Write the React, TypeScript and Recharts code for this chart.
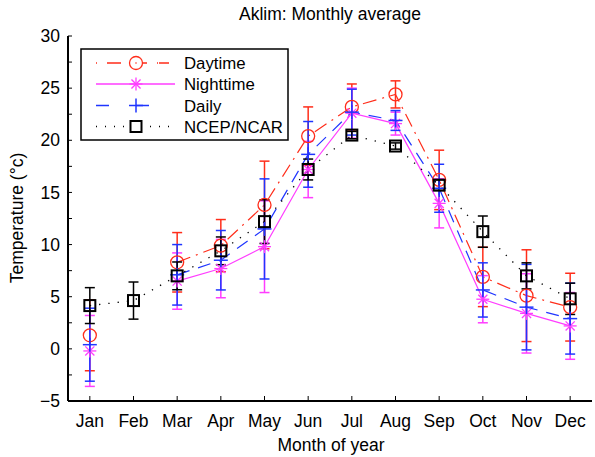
import { LineChart, Line, XAxis, YAxis, ErrorBar } from 'recharts';

const months = ['Jan', 'Feb', 'Mar', 'Apr', 'May', 'Jun', 'Jul', 'Aug', 'Sep', 'Oct', 'Nov', 'Dec'];

const daytime = [1.3, null, 8.3, 9.9, 13.8, 20.4, 23.2, 24.4, 16.2, 6.9, 5.1, 4.0];
const daytimeErr = [3.4, null, 2.85, 2.5, 4.2, 2.8, 2.2, 1.3, 2.85, 2.85, 4.4, 3.25];

const nighttime = [-0.2, null, 6.5, 7.7, 9.8, 17.2, 22.6, 21.6, 13.95, 4.76, 3.4, 2.2];
const nighttimeErr = [3.4, null, 2.7, 2.8, 4.4, 2.7, 2.4, 1.1, 2.35, 2.26, 3.8, 3.2];

const daily = [0.4, null, 7.1, 8.5, 11.5, 18.65, 22.7, 21.9, 15.4, 5.65, 4.0, 2.9];
const dailyErr = [3.5, null, 2.9, 2.85, 4.8, 3.15, 2.2, 0.95, 2.3, 2.6, 4.1, 3.4];

const ncep = [4.15, 4.63, 7.0, 9.4, 12.2, 17.2, 20.5, 19.45, 15.7, 11.24, 7.0, 4.8];
const ncepErr = [1.72, 1.78, 1.33, 1.33, 2.1, 1.0, 0.35, 0.3, 0.5, 1.5, 1.25, 1.5];

const yTicks = [-5, -2.5, 0, 2.5, 5, 7.5, 10, 12.5, 15, 17.5, 20, 22.5, 25, 27.5, 30];
const xTicks = [1, 2, 3, 4, 5, 6, 7, 8, 9, 10, 11, 12];

const RED = '#ff2d1a';
const MAGENTA = '#ff3dff';
const BLUE = '#1f35ff';
const FONT = '"Liberation Sans", Arial, sans-serif';

const data = months.map((name, i) => ({
  m: i + 1,
  name,
  day: daytime[i],
  dayErr: daytimeErr[i],
  night: nighttime[i],
  nightErr: nighttimeErr[i],
  daily: daily[i],
  dailyErr: dailyErr[i],
  ncep: ncep[i],
  ncepErr: ncepErr[i],
}));

const fmtY = (v: number) => (v % 5 !== 0 ? '' : v < 0 ? '\u2212' + Math.abs(v) : String(v));

const CircleDot = (p: any) => {
  if (p.cx == null || p.cy == null || p.value == null) return <g key={`c${p.index}`} />;
  return <circle key={`c${p.index}`} cx={p.cx} cy={p.cy} r={6.5} fill="none" stroke={RED} strokeWidth={1.3} />;
};

const StarDot = (p: any) => {
  if (p.cx == null || p.cy == null || p.value == null) return <g key={`s${p.index}`} />;
  const r = 6.5;
  const d = r * 0.7;
  return (
    <g key={`s${p.index}`} stroke={MAGENTA} strokeWidth={1.3}>
      <line x1={p.cx - r} y1={p.cy} x2={p.cx + r} y2={p.cy} />
      <line x1={p.cx} y1={p.cy - r} x2={p.cx} y2={p.cy + r} />
      <line x1={p.cx - d} y1={p.cy - d} x2={p.cx + d} y2={p.cy + d} />
      <line x1={p.cx - d} y1={p.cy + d} x2={p.cx + d} y2={p.cy - d} />
    </g>
  );
};

const PlusDot = (p: any) => {
  if (p.cx == null || p.cy == null || p.value == null) return <g key={`p${p.index}`} />;
  const r = 7;
  return (
    <g key={`p${p.index}`} stroke={BLUE} strokeWidth={1.5}>
      <line x1={p.cx - r} y1={p.cy} x2={p.cx + r} y2={p.cy} />
      <line x1={p.cx} y1={p.cy - r} x2={p.cx} y2={p.cy + r} />
    </g>
  );
};

const SquareDot = (p: any) => {
  if (p.cx == null || p.cy == null || p.value == null) return <g key={`q${p.index}`} />;
  return <rect key={`q${p.index}`} x={p.cx - 5.5} y={p.cy - 5.5} width={11} height={11} fill="none" stroke="#000" strokeWidth={2} />;
};

const legendRows = [
  { label: 'Daytime', color: RED, dash: '1 10 14 12 14 10 1', y: 63 },
  { label: 'Nighttime', color: MAGENTA, dash: undefined, y: 84 },
  { label: 'Daily', color: BLUE, dash: '13 27', y: 105.5 },
  { label: 'NCEP/NCAR', color: '#000', dash: '1 8', y: 126.5 },
];

const Overlay = () => (
  <svg width={595} height={457} style={{ position: 'absolute', left: 0, top: 0, pointerEvents: 'none' }} fontFamily={FONT}>
    <text x={330} y={20} textAnchor="middle" fontSize={17.5} fill="#000">Aklim: Monthly average</text>
    <text x={331} y={451} textAnchor="middle" fontSize={17.5} fill="#000">Month of year</text>
    <text x={23} y={218} textAnchor="middle" fontSize={17.5} fill="#000" transform="rotate(-90 23 218)">Temperature (°c)</text>
    <rect x={81} y={49} width={207} height={91} fill="#fff" stroke="#000" strokeWidth={1.5} />
    {legendRows.map((r) => (
      <g key={r.label}>
        <line x1={96} y1={r.y} x2={175} y2={r.y} stroke={r.color} strokeWidth={1.3} strokeDasharray={r.dash} />
        <text x={184} y={r.y + 6} fontSize={16.8} fill="#000">{r.label}</text>
      </g>
    ))}
    <circle cx={136} cy={63} r={6.5} fill="#fff" stroke={RED} strokeWidth={1.3} />
    <circle cx={136} cy={63} r={0.8} fill={RED} />
    {StarDot({ cx: 136, cy: 84, value: 1, index: 'l' })}
    {PlusDot({ cx: 136, cy: 105.5, value: 1, index: 'l' })}
    <rect x={130.5} y={121} width={11} height={11} fill="#fff" stroke="#000" strokeWidth={2} />
  </svg>
);

export default function App() {
  return (
    <div style={{ position: 'absolute', left: 0, top: 0, width: 595, height: 457, background: '#fff' }}>
      <LineChart width={595} height={457} data={data} margin={{ top: 36, right: 3, bottom: 0, left: 0 }}>
        <XAxis
          xAxisId="bottom"
          dataKey="m"
          type="number"
          domain={[0.5, 12.5]}
          ticks={xTicks}
          interval={0}
          tickFormatter={(v: number) => months[v - 1]}
          height={56}
          tickSize={-5}
          tickMargin={19}
          axisLine={{ stroke: '#000', strokeWidth: 2 }}
          tickLine={{ stroke: '#000' }}
          tick={{ fill: '#000', fontSize: 17.5, fontFamily: FONT }}
          allowDataOverflow
        />
        <XAxis
          xAxisId="top"
          dataKey="m"
          type="number"
          orientation="top"
          domain={[0.5, 12.5]}
          ticks={xTicks}
          interval={0}
          height={0}
          tickSize={-5}
          tick={false}
          axisLine={{ stroke: '#000', strokeWidth: 2 }}
          tickLine={{ stroke: '#000' }}
          allowDataOverflow
        />
        <YAxis
          yAxisId="left"
          domain={[-5, 30]}
          ticks={yTicks}
          interval={0}
          width={68}
          tickFormatter={fmtY}
          tickSize={-4}
          tickMargin={12}
          axisLine={{ stroke: '#000', strokeWidth: 2 }}
          tickLine={{ stroke: '#000' }}
          tick={{ fill: '#000', fontSize: 17.5, fontFamily: FONT }}
          allowDataOverflow
        />
        <YAxis
          yAxisId="right"
          orientation="right"
          domain={[-5, 30]}
          ticks={yTicks}
          interval={0}
          width={0}
          tickSize={-4}
          tick={false}
          axisLine={{ stroke: '#000', strokeWidth: 2 }}
          tickLine={{ stroke: '#000' }}
          allowDataOverflow
        />
        <Line
          xAxisId="bottom"
          yAxisId="left"
          dataKey="day"
          stroke={RED}
          strokeWidth={1.2}
          strokeDasharray="14 6 2 6"
          dot={CircleDot}
          activeDot={false}
          isAnimationActive={false}
        >
          <ErrorBar dataKey="dayErr" direction="y" width={5} stroke={RED} strokeWidth={1.5} />
        </Line>
        <Line
          xAxisId="bottom"
          yAxisId="left"
          dataKey="night"
          stroke={MAGENTA}
          strokeWidth={1.2}
          dot={StarDot}
          activeDot={false}
          isAnimationActive={false}
        >
          <ErrorBar dataKey="nightErr" direction="y" width={5} stroke={MAGENTA} strokeWidth={1.5} />
        </Line>
        <Line
          xAxisId="bottom"
          yAxisId="left"
          dataKey="daily"
          stroke={BLUE}
          strokeWidth={1.2}
          strokeDasharray="13 9"
          dot={PlusDot}
          activeDot={false}
          isAnimationActive={false}
        >
          <ErrorBar dataKey="dailyErr" direction="y" width={5} stroke={BLUE} strokeWidth={1.5} />
        </Line>
        <Line
          xAxisId="bottom"
          yAxisId="left"
          dataKey="ncep"
          stroke="#000"
          strokeWidth={1.3}
          strokeDasharray="1.3 8"
          dot={SquareDot}
          activeDot={false}
          isAnimationActive={false}
        >
          <ErrorBar dataKey="ncepErr" direction="y" width={5} stroke="#000" strokeWidth={1.5} />
        </Line>
      </LineChart>
      <Overlay />
    </div>
  );
}
